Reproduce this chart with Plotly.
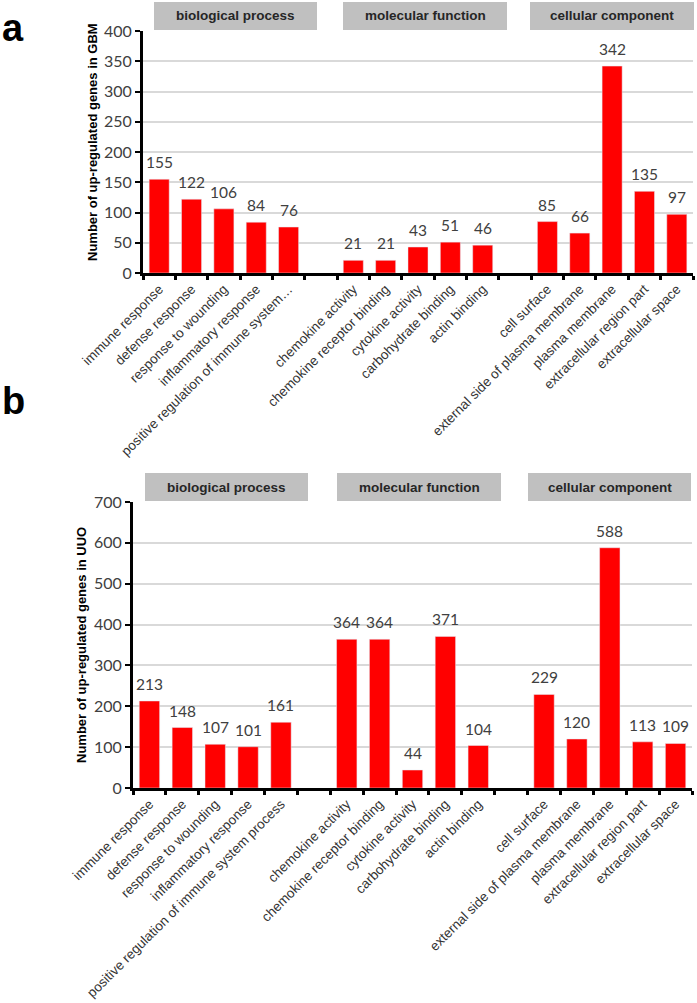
import plotly.graph_objects as go

# ---- data ----
bp_terms = ["immune response", "defense response", "response to wounding",
            "inflammatory response", "positive regulation of immune system process"]
mf_terms = ["chemokine activity", "chemokine receptor binding", "cytokine activity",
            "carbohydrate binding", "actin binding"]
cc_terms = ["cell surface", "external side of plasma membrane", "plasma membrane",
            "extracellular region part", "extracellular space"]

gbm_bp = [155, 122, 106, 84, 76]
gbm_mf = [21, 21, 43, 51, 46]
gbm_cc = [85, 66, 342, 135, 97]

uuo_bp = [213, 148, 107, 101, 161]
uuo_mf = [364, 364, 44, 371, 104]
uuo_cc = [229, 120, 588, 113, 109]

group_names = ["biological process", "molecular function", "cellular component"]
gbm_ticks = [0, 50, 100, 150, 200, 250, 300, 350, 400]
uuo_ticks = [0, 100, 200, 300, 400, 500, 600, 700]

W, H = 697, 1003
RED = "#ff0000"
TXT = "#404040"
NUMFONT = "Lato"
LBLFONT = "Liberation Sans"


def short(lbl, n=40):
    return lbl if len(lbl) <= n else lbl[:36] + "…"


def build(groups, vals, truncate):
    xs, ys = [], []
    for gi, (terms, v) in enumerate(zip(groups, vals)):
        if gi > 0:
            xs.append(" " * gi)
            ys.append(None)
        xs += [short(t) if truncate else t for t in terms]
        ys += v
    return xs, ys


x1, y1 = build([bp_terms, mf_terms, cc_terms], [gbm_bp, gbm_mf, gbm_cc], True)
x2, y2 = build([bp_terms, mf_terms, cc_terms], [uuo_bp, uuo_mf, uuo_cc], False)

fig = go.Figure()
anns = []
for xs, ys, xa, ya in [(x1, y1, "x", "y"), (x2, y2, "x2", "y2")]:
    fig.add_trace(go.Bar(x=xs, y=ys, marker_color=RED,
                         xaxis=xa, yaxis=ya, showlegend=False, hoverinfo="x+y"))
    for xv, yv in zip(xs, ys):
        if yv is None:
            continue
        anns.append(dict(x=xv, y=yv, xref=xa, yref=ya, text=str(yv), showarrow=False,
                         xanchor="center", yanchor="bottom", yshift=6,
                         font=dict(family=NUMFONT, size=15.5, color=TXT)))


def px_x(p):
    return p / W


def px_y(p):
    return 1 - p / H


xcommon = dict(type="category", showline=True, linewidth=3, linecolor="black",
               ticks="outside", tickson="boundaries", ticklen=4, tickwidth=2.5, tickcolor="black",
               tickangle=-45, tickfont=dict(family=LBLFONT, size=13.5, color="#333333"),
               showgrid=False, zeroline=False, fixedrange=True, automargin=False)
ycommon = dict(showline=True, linewidth=3, linecolor="black", ticks="outside", ticklen=5,
               tickwidth=2, tickcolor="black", showgrid=True, gridcolor="#d9d9d9", gridwidth=1.5,
               zeroline=False, automargin=False, fixedrange=True,
               tickfont=dict(family=NUMFONT, size=16, color=TXT))

fig.update_layout(
    width=W, height=H, margin=dict(l=0, r=0, t=0, b=0, autoexpand=False),
    paper_bgcolor="white", plot_bgcolor="white", bargap=0.38,
    xaxis=dict(domain=[px_x(143), px_x(693)], anchor="y", **xcommon),
    yaxis=dict(domain=[px_y(273), px_y(31)], anchor="x", range=[0, 400],
               tickvals=gbm_ticks, **ycommon),
    xaxis2=dict(domain=[px_x(133), px_x(692)], anchor="y2", **xcommon),
    yaxis2=dict(domain=[px_y(788), px_y(502)], anchor="x2", range=[0, 700],
                tickvals=uuo_ticks, **ycommon),
)

shapes = []
hdr_top = [(154, 317), (343, 507), (530, 694)]
hdr_bot = [(145, 308), (337, 501), (528, 691)]
for (y0, y1p, boxes) in [(2, 30, hdr_top), (473, 501, hdr_bot)]:
    for name, (a, b) in zip(group_names, boxes):
        shapes.append(dict(type="rect", xref="paper", yref="paper",
                           x0=px_x(a), x1=px_x(b), y0=px_y(y1p), y1=px_y(y0),
                           fillcolor="#c0c0c0", line=dict(width=0), layer="below"))
        anns.append(dict(text="<b>%s</b>" % name, xref="paper", yref="paper",
                         x=px_x((a + b) / 2), y=px_y((y0 + y1p) / 2), showarrow=False,
                         xanchor="center", yanchor="middle",
                         font=dict(family=LBLFONT, size=13.5, color="#262626")))

anns.append(dict(text="<b>Number of up-regulated genes in GBM</b>", xref="paper", yref="paper",
                 x=px_x(92), y=px_y(142), textangle=-90, showarrow=False,
                 xanchor="center", yanchor="middle",
                 font=dict(family=LBLFONT, size=13, color="black")))
anns.append(dict(text="<b>Number of up-regulated genes in UUO</b>", xref="paper", yref="paper",
                 x=px_x(81), y=px_y(645), textangle=-90, showarrow=False,
                 xanchor="center", yanchor="middle",
                 font=dict(family=LBLFONT, size=13, color="black")))
anns.append(dict(text="<b>a</b>", xref="paper", yref="paper", x=px_x(0), y=px_y(5),
                 xanchor="left", yanchor="top", showarrow=False,
                 font=dict(family=LBLFONT, size=38, color="black")))
anns.append(dict(text="<b>b</b>", xref="paper", yref="paper", x=px_x(0), y=px_y(378),
                 xanchor="left", yanchor="top", showarrow=False,
                 font=dict(family=LBLFONT, size=38, color="black")))

fig.update_layout(shapes=shapes, annotations=anns)
fig.write_html("out.html", config={"displayModeBar": False},
               post_script="document.body.style.margin='0';")
